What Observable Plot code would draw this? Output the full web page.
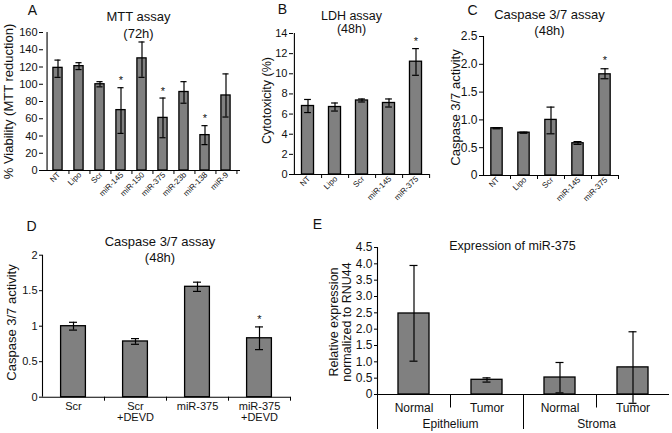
<!DOCTYPE html>
<html><head><meta charset="utf-8">
<script src="https://cdn.jsdelivr.net/npm/d3@7"></script>
<script src="https://cdn.jsdelivr.net/npm/@observablehq/plot@0.6"></script>
<style>
body{margin:0;background:#fff;}
#fig{position:relative;width:672px;height:433px;background:#fff;overflow:hidden;}
#fig svg{position:absolute;overflow:visible;}
</style></head><body><div id="fig"></div>
<script>
// ---- Panel A: MTT assay (72h)
const aCats = ["NT","Lipo","Scr","miR-145","miR-150","miR-375","miR-23b","miR-138","miR-9"];
const aMean = [119,121,100,70,130,61,91,41,87];
const aLow  = [108,117,97,43,108,38,78,30,62];
const aHigh = [128,125,103,96,149,84,103,52,112];
const aSig  = ["miR-145","miR-375","miR-138"];
const aTicks = [0,20,40,60,80,100,120,140,160];

// ---- Panel B: LDH assay (48h)
const bCats = ["NT","Lipo","Scr","miR-145","miR-375"];
const bMean = [6.8,6.7,7.35,7.1,11.2];
const bLow  = [6.15,6.3,7.2,6.7,9.85];
const bHigh = [7.45,7.1,7.5,7.5,12.5];
const bSig  = ["miR-375"];
const bTicks = [0,2,4,6,8,10,12,14];

// ---- Panel C: Caspase 3/7 assay (48h)
const cCats = ["NT","Lipo","Scr","miR-145","miR-375"];
const cMean = [0.85,0.77,1.0,0.58,1.82];
const cLow  = [0.84,0.76,0.75,0.56,1.74];
const cHigh = [0.86,0.78,1.23,0.61,1.92];
const cSig  = ["miR-375"];
const cTicks = [0,0.5,1,1.5,2,2.5];

// ---- Panel D: Caspase 3/7 assay with DEVD (48h)
const dCats = ["Scr","Scr +DEVD","miR-375","miR-375 +DEVD"];
const dMean = [1.0,0.785,1.555,0.83];
const dLow  = [0.945,0.745,1.49,0.67];
const dHigh = [1.055,0.825,1.62,0.99];
const dSig  = ["miR-375 +DEVD"];
const dTicks = [0,0.5,1,1.5,2];

// ---- Panel E: Expression of miR-375
const eGroups = ["Epithelium","Stroma"];
const eTypes  = ["Normal","Tumor"];
const eMean = [2.48,0.45,0.52,0.83];
const eLow  = [1.02,0.38,0.05,-0.27];
const eHigh = [3.95,0.51,0.98,1.92];
const eTicks = [0,0.5,1,1.5,2,2.5,3,3.5,4,4.5];

const FONT = '"Liberation Sans", Arial, Helvetica, sans-serif';
const INK = "#111";
const BAR = "#808080";
const fig = document.getElementById("fig");

function place(svg, left, top) {
  svg.style.left = left + "px";
  svg.style.top = top + "px";
  fig.appendChild(svg);
}

function barMarks(o) {
  const n = o.cats.length;
  const step = (o.width - o.ml - o.mr) / n;
  const inset = step * (1 - o.barFrac) / 2;
  const capInset = (step - o.cap) / 2;
  const rows = o.cats.map((c, i) => ({c, m: o.mean[i], lo: o.low[i], hi: o.high[i]}));
  const starRows = rows.filter(r => o.sig.includes(r.c));
  return {step, marks: [
    Plot.barY(rows, {x: "c", y: "m", fill: BAR, stroke: "#000", strokeWidth: 1.3, insetLeft: inset, insetRight: inset}),
    Plot.ruleY([0], {stroke: "#000", strokeWidth: 1.1}),
    Plot.ruleX([o.cats[0]], {x: d => d, dx: -step / 2, y1: 0, y2: o.domain[1], stroke: "#000", strokeWidth: 1.1}),
    Plot.ruleX(rows, {x: "c", y1: "lo", y2: "hi", stroke: "#000", strokeWidth: 1.2}),
    Plot.tickY(rows, {x: "c", y: "lo", insetLeft: capInset, insetRight: capInset, stroke: "#000", strokeWidth: 1.2}),
    Plot.tickY(rows, {x: "c", y: "hi", insetLeft: capInset, insetRight: capInset, stroke: "#000", strokeWidth: 1.2}),
    Plot.text(starRows, {x: "c", y: "hi", text: () => "*", dy: o.starDy, fontSize: 11, fill: INK}),
    Plot.axisY({ticks: o.ticks, tickFormat: o.fmt, tickSize: o.tickSize ?? 4, tickPadding: 2, fontSize: o.yFont, label: null, stroke: "#000"})
  ]};
}

function build(o, extra) {
  const {step, marks} = barMarks(o);
  const all = marks.concat(extra(step)).concat([
    Plot.text([o.title], {frameAnchor: "top", dx: o.titleDx, dy: o.titleDy, fontSize: o.titleSize ?? 13, lineHeight: o.titleLH, lineAnchor: "middle", fill: INK}),
    Plot.text([o.letter], {frameAnchor: "top-left", dx: o.letterDx, dy: o.letterDy, fontSize: 14, textAnchor: "middle", lineAnchor: "middle", fill: INK}),
    Plot.text([o.ylabel], {frameAnchor: "left", rotate: -90, dx: o.ylDx, dy: o.ylDy, fontSize: o.ylSize ?? 13, lineHeight: 1.05, textAnchor: "middle", lineAnchor: "middle", fill: INK})
  ]);
  const svg = Plot.plot({
    width: o.width, height: o.height,
    marginTop: o.mt, marginRight: o.mr, marginBottom: o.mb, marginLeft: o.ml,
    x: {type: "band", domain: o.cats, padding: 0},
    y: {domain: o.domain},
    style: {fontFamily: FONT, color: INK, background: "transparent", overflow: "visible"},
    marks: all
  });
  place(svg, o.left, o.top);
}

const fmt1 = d => d === 0 ? "0" : d.toFixed(1);
const rotLabels = (fs) => Plot.axisX({tickSize: 0, tickRotate: -45, tickPadding: 3, dx: 1, fontSize: fs, label: null, fill: INK});
const boundTicks = (cats, step) => Plot.ruleX(cats, {x: d => d, dx: step / 2, y1: 0, y2: 0, insetBottom: -4, stroke: "#000"});

// A
build({cats: aCats, mean: aMean, low: aLow, high: aHigh, sig: aSig, ticks: aTicks, fmt: d => String(d),
  domain: [0,160], left: 0, top: 0, width: 250, height: 215, mt: 32, mr: 10, mb: 45, ml: 43,
  barFrac: 0.46, cap: 7, starDy: -7, yFont: 11,
  title: "MTT assay\n(72h)", titleDx: -3.5, titleDy: -8.5, titleLH: 1.3,
  letter: "A", letterDx: -11, letterDy: -22,
  ylabel: "% Viability (MTT reduction)", ylDx: -35, ylDy: 0},
  step => [rotLabels(8), boundTicks(aCats, step)]);

// B
build({cats: bCats, mean: bMean, low: bLow, high: bHigh, sig: bSig, ticks: bTicks, fmt: d => String(d),
  domain: [0,14], left: 250, top: 0, width: 190, height: 215, mt: 33, mr: 11, mb: 41, ml: 43,
  barFrac: 0.45, cap: 7, starDy: -7, yFont: 11,
  title: "LDH assay\n(48h)", titleSize: 12.5, titleDx: -10, titleDy: -11.3, titleLH: 1.07,
  letter: "B", letterDx: -11, letterDy: -23.5,
  ylabel: "Cytotoxicity (%)", ylSize: 12.5, ylDx: -27, ylDy: -3.5},
  step => [rotLabels(8), boundTicks(bCats, step)]);

// C
build({cats: cCats, mean: cMean, low: cLow, high: cHigh, sig: cSig, ticks: cTicks, fmt: fmt1,
  domain: [0,2.5], left: 440, top: 0, width: 232, height: 215, mt: 36, mr: 54, mb: 40, ml: 43,
  barFrac: 0.42, cap: 8, starDy: -8, yFont: 12,
  title: "Caspase 3/7 assay\n(48h)", titleDx: -1.5, titleDy: -14.75, titleLH: 1.2,
  letter: "C", letterDx: -11, letterDy: -26,
  ylabel: "Caspase 3/7 activity", ylDx: -28, ylDy: 1.5},
  step => [rotLabels(8), boundTicks(cCats, step)]);

// D
build({cats: dCats, mean: dMean, low: dLow, high: dHigh, sig: dSig, ticks: dTicks, fmt: d => String(d),
  domain: [0,2], left: 0, top: 215, width: 300, height: 218, mt: 39.7, mr: 10, mb: 36.3, ml: 42,
  barFrac: 0.4, cap: 8, starDy: -7, yFont: 11, tickSize: 3,
  title: "Caspase 3/7 assay\n(48h)", titleDx: -6.5, titleDy: -6.45, titleLH: 1.27,
  letter: "D", letterDx: -11, letterDy: -28.7,
  ylabel: "Caspase 3/7 activity", ylDx: -31, ylDy: -3.7},
  step => [
    Plot.axisX({tickSize: 0, tickPadding: 5, fontSize: 11, label: null, lineHeight: 1.02, fill: INK,
      tickFormat: d => d.replace(" ", "\n")}),
    boundTicks(dCats, step)
  ]);

// E
const eCats = eGroups.flatMap(g => eTypes.map(t => g + "|" + t));
const eNormal = eGroups.map(g => g + "|" + eTypes[0]);
build({cats: eCats, mean: eMean, low: eLow, high: eHigh, sig: [], ticks: eTicks, fmt: fmt1,
  domain: [0,4.5], left: 290, top: 215, width: 382, height: 218, mt: 32, mr: 3, mb: 39, ml: 87,
  barFrac: 0.425, cap: 8, starDy: -7, yFont: 12, tickSize: 3,
  title: "Expression of miR-375", titleSize: 12.5, titleDx: -11, titleDy: -2, titleLH: 1,
  letter: "E", letterDx: -60, letterDy: -23,
  ylabel: "Relative expression\nnormalized to RNU44", ylSize: 12.5, ylDx: -37, ylDy: 1},
  step => [
    Plot.axisX({tickSize: 0, tickPadding: 9, fontSize: 12, label: null, fill: INK,
      tickFormat: d => d.split("|")[1]}),
    Plot.ruleX(eNormal, {x: d => d, dx: -step / 2, y1: 0, y2: 0, insetBottom: -35, stroke: "#000"}),
    Plot.ruleX(eNormal, {x: d => d, dx: step / 2, y1: 0, y2: 0, insetBottom: -13.5, stroke: "#000"}),
    Plot.text(eGroups, {x: g => g + "|" + eTypes[0], dx: step / 2, frameAnchor: "bottom", dy: 25.3,
      lineAnchor: "top", fontSize: 12, fill: INK})
  ]);
</script></body></html>
